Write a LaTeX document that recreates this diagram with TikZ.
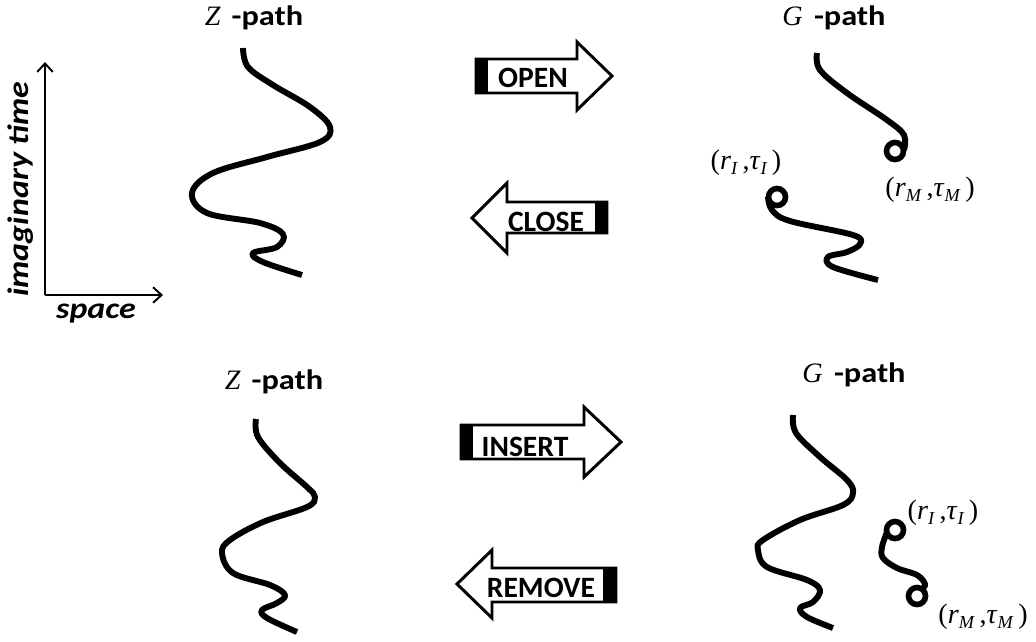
\documentclass[tikz,border=0pt]{standalone}
\usepackage{fontspec}
\setsansfont{Carlito}
\newfontfamily\labelsans[FakeStretch=1.15]{Carlito}
\newfontfamily\serifmath{Liberation Serif}
\usetikzlibrary{arrows.meta}

\tikzset{
  worldline/.style={line width=4.2pt, line join=round},
  wormloop/.style={line width=4pt},
  flowarrow/.style={draw=black, line width=2.1pt, fill=white, line join=miter},
  arrowbar/.style={fill=black},
  arrowword/.style={font=\sffamily\bfseries\fontsize{21}{21}\selectfont, inner sep=0pt},
  pathname/.style={font=\fontsize{20}{20}\selectfont, inner sep=0pt},
  axisline/.style={line width=1.4pt, -{Straight Barb[length=6pt,width=11pt]}},
  axisname/.style={font=\labelsans\bfseries\itshape\fontsize{21}{21}\selectfont, inner sep=0pt},
  endpoint/.style={font=\serifmath\fontsize{20}{20}\selectfont, inner sep=0pt},
}
\newcommand{\pathword}{\hspace{0.4em}{\labelsans\bfseries -path}}
\newcommand{\subidx}[1]{\raisebox{-0.4ex}{\fontsize{13}{13}\selectfont\textit{#1}}}
\newcommand{\wormpos}[1]{(\textit{r}\subidx{#1}\,,\textit{τ}\subidx{#1}\,)}

\begin{document}
\begin{tikzpicture}[x=0.025cm, y=-0.025cm]
\useasboundingbox (0,0) rectangle (1036,641);

% axes
\coordinate (torigin) at (45,295);
\coordinate (ttop) at (45,62);
\coordinate (xend) at (163,295);
\draw[axisline] (torigin) -- (ttop);
\draw[axisline] (torigin) -- (xend);
\node[axisname, rotate=90] (timelab) at (21,189) {imaginary time};
\node[axisname] (spacelab) at (96,314) {space};

% top row: Z-path and G-path
\node[pathname] (ztop) at (254,18) {{\serifmath\itshape Z}\pathword};
\node[pathname] (gtop) at (834,18) {{\serifmath\itshape G}\pathword};

\draw[worldline] plot[smooth, tension=0.6] coordinates {(243,48) (248,67) (273,85) (310,107)
  (330,127) (320,142) (267,157) (213,173) (192,193) (207,213) (260,223) (283,234)
  (277,247) (253,253) (263,262) (302,275)};

\draw[worldline] plot[smooth, tension=0.6] coordinates {(817,53) (820,70) (847,93) (887,120)
  (904,135) (904,150)};
\draw[wormloop] (895,151) circle (8.5);
\draw[worldline] plot[smooth, tension=0.6] coordinates {(768,197) (772,210) (790,221) (853,235)
  (860,244) (847,252) (828,257) (833,267) (878,280)};
\draw[wormloop] (777,197) circle (8.5);
\node[endpoint] (itop) at (746,163) {\wormpos{I}};
\node[endpoint] (mtop) at (930,190) {\wormpos{M}};

% OPEN / CLOSE
\draw[flowarrow] (476,59) -- (577,59) -- (577,42) -- (612,76) -- (577,110) -- (577,93) -- (476,93) -- cycle;
\fill[arrowbar] (476,59) rectangle (488,93);
\node[arrowword] (open) at (533,78) {OPEN};

\draw[flowarrow] (607,202) -- (507,202) -- (507,183) -- (472,218) -- (507,253) -- (507,233) -- (607,233) -- cycle;
\fill[arrowbar] (595,202) rectangle (607,233);
\node[arrowword] (close) at (546,222) {CLOSE};

% bottom row: Z-path and G-path
\node[pathname] (zbot) at (274,382) {{\serifmath\itshape Z}\pathword};
\node[pathname] (gbot) at (854,375) {{\serifmath\itshape G}\pathword};

\draw[worldline] plot[smooth, tension=0.6] coordinates {(256,419) (258,437) (280,463) (307,487)
  (315,497) (307,507) (263,522) (230,540) (222,553) (233,573) (270,585) (285,595)
  (277,603) (262,610) (267,618) (297,632)};

\draw[worldline] plot[smooth, tension=0.6] coordinates {(793,415) (796,433) (820,457) (847,480)
  (853,493) (843,505) (800,520) (763,540) (758,550) (767,567) (807,580) (820,590)
  (813,602) (800,608) (807,617) (833,628)};

\draw[worldline] plot[smooth, tension=0.6] coordinates {(887,532) (882,547) (883,558) (897,568)
  (917,575) (925,584) (922,589)};
\draw[wormloop] (895,530) circle (8.5);
\draw[wormloop] (917,596) circle (8.5);
\node[endpoint] (ibot) at (943,513) {\wormpos{I}};
\node[endpoint] (mbot) at (983,617) {\wormpos{M}};

% INSERT / REMOVE
\draw[flowarrow] (461,425) -- (584,425) -- (584,407) -- (621,442) -- (584,477) -- (584,459) -- (461,459) -- cycle;
\fill[arrowbar] (461,425) rectangle (473,459);
\node[arrowword] (insert) at (525,447) {INSERT};

\draw[flowarrow] (616,568) -- (492,568) -- (492,550) -- (457,584) -- (492,618) -- (492,602) -- (616,602) -- cycle;
\fill[arrowbar] (603,568) rectangle (616,602);
\node[arrowword] (remove) at (541,588) {REMOVE};
\end{tikzpicture}
\end{document}
